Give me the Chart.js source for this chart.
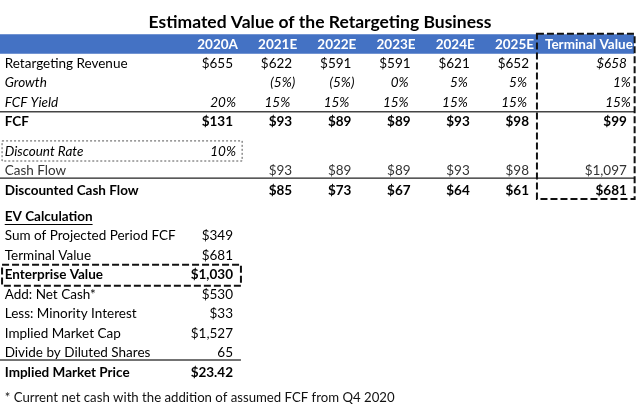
<!DOCTYPE html>
<html>
<head>
<meta charset="utf-8">
<script src="https://cdn.jsdelivr.net/npm/chart.js@4.4.1/dist/chart.umd.min.js"></script>
<style>
  html, body { margin: 0; padding: 0; background: #fff; }
  canvas { display: block; }
</style>
</head>
<body>
<canvas id="valuationTable" width="640" height="408"></canvas>
<script>
// Table data
const title = 'Estimated Value of the Retargeting Business';
const periods = ['2020A', '2021E', '2022E', '2023E', '2024E', '2025E', 'Terminal Value'];
const revenue = [655, 622, 591, 591, 621, 652, 658];
const growth = [null, -5, -5, 0, 5, 5, 1];
const fcfYield = [20, 15, 15, 15, 15, 15, 15];
const fcf = [131, 93, 89, 89, 93, 98, 99];
const discountRate = 10;
const cashFlow = [null, 93, 89, 89, 93, 98, 1097];
const discountedCashFlow = [null, 85, 73, 67, 64, 61, 681];
const evLabels = ['Sum of Projected Period FCF', 'Terminal Value', 'Enterprise Value', 'Add: Net Cash*',
  'Less: Minority Interest', 'Implied Market Cap', 'Divide by Diluted Shares', 'Implied Market Price'];
const evValues = [349, 681, 1030, 530, 33, 1527, 65, 23.42];
const footnote = '* Current net cash with the addition of assumed FCF from Q4 2020';

// Layout (column units / row units)
const layout = {
  labelX: 0.08,
  firstEdge: 4.02,
  terminalEdge: 10.69,
  gapAfterFcf: 0.5,
  gapAfterDcf: 0.35,
  gapBeforeNote: 0.3
};
const FONT = 'Lato, "Open Sans", sans-serif';
const BODY = 13.5;
const BLUE = '#4472C4';
const INK = '#000';

// Formatting helpers
function fmtMoney(v) {
  const dec = v % 1 ? 2 : 0;
  return '$' + v.toLocaleString('en-US', { minimumFractionDigits: dec, maximumFractionDigits: dec });
}
function fmtPct(v) {
  return v < 0 ? '(' + Math.abs(v) + '%)' : v + '%';
}
function colEdge(i) {
  return i < 6 ? layout.firstEdge + i : layout.terminalEdge;
}

// Build row positions
let r = 0;
const rowPos = {};
rowPos.header = r++;
rowPos.revenue = r++;
rowPos.growth = r++;
rowPos.yield = r++;
rowPos.fcf = r;
r += 1 + layout.gapAfterFcf;
rowPos.discount = r++;
rowPos.cash = r++;
rowPos.dcf = r;
r += 1 + layout.gapAfterDcf;
rowPos.evTitle = r++;
rowPos.ev = [];
evLabels.forEach(() => rowPos.ev.push(r++));
rowPos.note = r + layout.gapBeforeNote;

const tablePlugin = {
  id: 'tableCells',
  afterDraw(chart) {
    const { ctx } = chart;
    const x = chart.scales.x;
    const y = chart.scales.y;
    const px = (v) => x.getPixelForValue(v);
    const py = (v) => y.getPixelForValue(v);

    function font(size, bold, italic) {
      return (italic ? 'italic ' : '') + (bold ? 'bold ' : '') + size + 'px ' + FONT;
    }
    function text(str, xv, yv, align, f, color) {
      ctx.font = f;
      ctx.fillStyle = color || INK;
      ctx.textAlign = align;
      ctx.textBaseline = 'middle';
      ctx.fillText(str, typeof xv === 'number' ? px(xv) : xv.px, py(yv));
    }
    // right edge for a value, with a small cell padding in pixels
    function valX(col, pad) {
      return { px: px(colEdge(col)) - pad };
    }
    function valueRow(values, row, fmt, opts) {
      values.forEach((v, i) => {
        if (v === null) return;
        const s = fmt(v);
        let pad = i === 6 ? 6 : 5;
        if (fmt === fmtPct) {
          pad = (i === 0 || i === 6) ? 2 : (v < 0 ? 2 : 7);
        }
        const it = opts.italic || (opts.italicTerminal && i === 6);
        text(s, valX(i, pad), row, 'right', font(BODY, opts.bold, it), opts.color);
      });
    }

    ctx.save();

    // Title
    text(title, (x.min + x.max) / 2, rowPos.header - 1.13, 'center', font(17.5, true, false), INK);

    // Header band
    ctx.fillStyle = BLUE;
    const bandTop = py(rowPos.header - 0.5);
    const bandBottom = py(rowPos.header + 0.5);
    ctx.fillRect(px(0), bandTop, px(layout.terminalEdge + 0.02) - px(0), bandBottom - bandTop);
    periods.forEach((p, i) => {
      text(p, valX(i, 0), rowPos.header + 0.05, 'right', font(BODY, true, false), '#fff');
    });

    // Operating rows
    text('Retargeting Revenue', layout.labelX, rowPos.revenue, 'left', font(BODY, false, false));
    valueRow(revenue, rowPos.revenue, fmtMoney, { italicTerminal: true });
    text('Growth', layout.labelX, rowPos.growth, 'left', font(BODY, false, true));
    valueRow(growth, rowPos.growth, fmtPct, { italic: true });
    text('FCF Yield', layout.labelX, rowPos.yield, 'left', font(BODY, false, true));
    valueRow(fcfYield, rowPos.yield, fmtPct, { italic: true });
    text('FCF', layout.labelX, rowPos.fcf, 'left', font(BODY, true, false));
    valueRow(fcf, rowPos.fcf, fmtMoney, { bold: true });

    // Discounting rows
    text('Discount Rate', layout.labelX, rowPos.discount, 'left', font(BODY, false, true));
    text(fmtPct(discountRate), valX(0, 2), rowPos.discount, 'right', font(BODY, false, true));
    text('Cash Flow', layout.labelX, rowPos.cash, 'left', font(BODY, false, false), '#333');
    valueRow(cashFlow, rowPos.cash, fmtMoney, { color: '#333' });
    text('Discounted Cash Flow', layout.labelX, rowPos.dcf, 'left', font(BODY, true, false));
    valueRow(discountedCashFlow, rowPos.dcf, fmtMoney, { bold: true });

    // EV calculation
    const evTitle = 'EV Calculation';
    text(evTitle, layout.labelX, rowPos.evTitle, 'left', font(BODY, true, false));
    ctx.font = font(BODY, true, false);
    const uw = ctx.measureText(evTitle).width;
    ctx.strokeStyle = INK;
    ctx.lineWidth = 1;
    ctx.beginPath();
    ctx.moveTo(px(layout.labelX), Math.round(py(rowPos.evTitle) + 7) + 0.5);
    ctx.lineTo(px(layout.labelX) + uw, Math.round(py(rowPos.evTitle) + 7) + 0.5);
    ctx.stroke();

    const boldEv = ['Enterprise Value', 'Implied Market Price'];
    evLabels.forEach((lab, i) => {
      const b = boldEv.includes(lab);
      text(lab, layout.labelX, rowPos.ev[i], 'left', font(BODY, b, false));
      const v = evValues[i];
      const s = lab.startsWith('Divide') ? String(v) : fmtMoney(v);
      text(s, valX(0, 5), rowPos.ev[i], 'right', font(BODY, b, false));
    });

    // Footnote
    text(footnote, layout.labelX, rowPos.note, 'left', font(13.2, false, false), '#111');

    // Rules
    function hline(x0, x1, yv, color, w) {
      ctx.strokeStyle = color;
      ctx.lineWidth = w;
      ctx.setLineDash([]);
      ctx.beginPath();
      ctx.moveTo(px(x0), py(yv));
      ctx.lineTo(px(x1), py(yv));
      ctx.stroke();
    }
    hline(0, layout.terminalEdge + 0.02, rowPos.yield + 0.47, '#444', 1.5);
    hline(0, layout.terminalEdge + 0.02, rowPos.cash + 0.38, '#222', 1.2);
    hline(0, layout.firstEdge + 0.05, rowPos.ev[6] + 0.36, '#444', 1.5);

    // Boxes
    function box(x0, x1, y0, y1, dash, w, color) {
      ctx.strokeStyle = color;
      ctx.lineWidth = w;
      ctx.setLineDash(dash);
      ctx.strokeRect(px(x0), py(y0), px(x1) - px(x0), py(y1) - py(y0));
    }
    box(layout.firstEdge + 5.05, layout.terminalEdge + 0.03, rowPos.header - 0.52, rowPos.dcf + 0.45, [7, 3], 2, '#111');
    box(0.035, layout.firstEdge + 0.07, rowPos.discount - 0.53, rowPos.discount + 0.5, [2, 2], 1, '#555');
    box(0.035, layout.firstEdge + 0.05, rowPos.ev[2] - 0.53, rowPos.ev[2] + 0.55, [7, 3], 2, '#111');

    ctx.restore();
  }
};

new Chart(document.getElementById('valuationTable'), {
  type: 'scatter',
  data: { datasets: [] },
  options: {
    responsive: false,
    animation: false,
    events: [],
    layout: { padding: 0 },
    plugins: { legend: { display: false }, tooltip: { enabled: false } },
    scales: {
      x: { type: 'linear', display: false, min: 0, max: 640 / 59.2 },
      y: { type: 'linear', display: false, reverse: true, min: -44 / 19.5, max: (408 - 44) / 19.5 }
    }
  },
  plugins: [tablePlugin]
});
</script>
</body>
</html>
